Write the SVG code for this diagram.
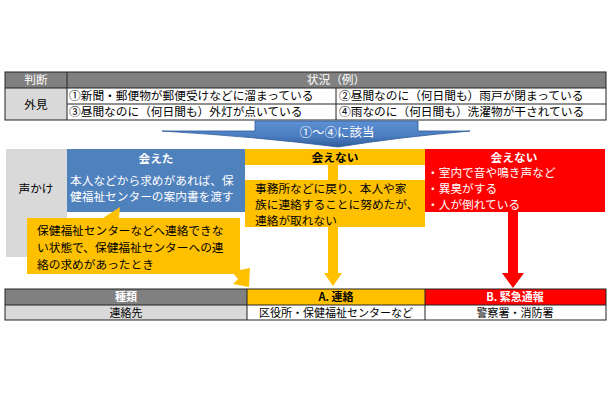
<svg xmlns="http://www.w3.org/2000/svg" width="610" height="400" viewBox="0 0 610 400">
<defs>
<style>
text{font-family:"Noto Sans CJK JP","Noto Sans",sans-serif;font-size:11.7px;}
.b{font-weight:bold;}
.w{fill:#ffffff;}
.k{fill:#000000;}
.c{text-anchor:middle;}
.s{font-size:11px;}
.grid{fill:none;stroke:#222;stroke-width:1;}
</style>
<linearGradient id="bg" x1="0" y1="0" x2="0" y2="1">
<stop offset="0" stop-color="#5d90d3"/>
<stop offset="0.6" stop-color="#4a7cc0"/>
<stop offset="1" stop-color="#2e5c99"/>
</linearGradient>
</defs>
<rect width="610" height="400" fill="#ffffff"/>

<g id="top-table">
<rect x="5" y="72" width="601" height="16" fill="#808080"/>
<rect x="5" y="88" width="62" height="32" fill="#d9d9d9"/>
<rect x="67" y="88" width="539" height="32" fill="#ffffff"/>
<rect x="5" y="72" width="601" height="48" class="grid"/>
<line x1="67" y1="72" x2="67" y2="120" class="grid"/>
<line x1="5" y1="88" x2="606" y2="88" class="grid"/>
<line x1="67" y1="104" x2="606" y2="104" class="grid"/>
<line x1="336" y1="88" x2="336" y2="120" class="grid"/>
<text x="36" y="84" class="w c">判断</text>
<text x="336" y="84" class="w c">状況（例）</text>
<text x="36" y="108.5" class="k c">外見</text>
<text x="69" y="100">①新聞・郵便物が郵便受けなどに溜まっている</text>
<text x="339" y="100">②昼間なのに（何日間も）雨戸が閉まっている</text>
<text x="69" y="116">③昼間なのに（何日間も）外灯が点いている</text>
<text x="339" y="116">④雨なのに（何日間も）洗濯物が干されている</text>
</g>

<g id="match-arrow">
<path d="M255,121 H418 V131 H470 Q400,137 338,147 Q260,137 162,131 H255 Z" fill="url(#bg)" stroke="#2e5c99" stroke-width="0.8"/>
<text x="337" y="137" class="w c" style="font-size:12.5px">①～④に該当</text>
</g>

<g id="voice-label">
<rect x="6" y="149" width="61" height="108" fill="#d9d9d9"/>
<text x="36" y="193" class="k c">声かけ</text>
</g>

<g id="met">
<rect x="67" y="149" width="178" height="63" fill="#4f81bd"/>
<text x="156" y="163" class="w c b">会えた</text>
<text x="70" y="185" class="w">本人などから求めがあれば、保</text>
<text x="70" y="201" class="w">健福祉センターの案内書を渡す</text>
</g>

<g id="callout">
<path d="M27,218 H103 L120,207 L119,218 H240 V274 H27 Z" fill="#ffc000"/>
<text x="37" y="235" class="k">保健福祉センターなどへ連絡できな</text>
<text x="37" y="252" class="k">い状態で、保健福祉センターへの連</text>
<text x="37" y="269" class="k">絡の求めがあったとき</text>
</g>

<g id="not-met-yellow">
<rect x="245" y="149" width="180" height="16" fill="#ffc000"/>
<text x="335" y="161.5" class="k c b">会えない</text>
<rect x="245" y="180" width="180" height="47" fill="#ffc000"/>
<text x="255" y="193" class="k">事務所などに戻り、本人や家</text>
<text x="255" y="209" class="k">族に連絡することに努めたが、</text>
<text x="255" y="225" class="k">連絡が取れない</text>
</g>

<g id="not-met-red">
<rect x="425" y="149" width="180" height="63" fill="#ff0000"/>
<text x="514" y="161.5" class="w c b">会えない</text>
<text x="427" y="177" class="w">・室内で音や鳴き声など</text>
<text x="427" y="193" class="w">・異臭がする</text>
<text x="427" y="209" class="w">・人が倒れている</text>
</g>

<g id="connectors">
<path d="M328,165 H338 V180 H328 Z M328,227 H338 V273 H342 L333,286 L324,273 H328 Z" fill="#ffc000"/>
<path d="M508,212 H518 V273 H524 L513,288 L502,273 H508 Z" fill="#ff0000"/>
<path d="M232,272 H240 V270 L250,268 L249,287 L233,284 L238,279 Z" fill="#ffc000"/>
</g>

<g id="bottom-table">
<rect x="5" y="289" width="242" height="16" fill="#808080"/>
<rect x="247" y="289" width="178" height="16" fill="#ffc000"/>
<rect x="425" y="289" width="181" height="16" fill="#ff0000"/>
<rect x="5" y="305" width="242" height="15" fill="#d9d9d9"/>
<rect x="247" y="305" width="359" height="15" fill="#ffffff"/>
<rect x="5" y="289" width="601" height="31" class="grid"/>
<line x1="5" y1="305" x2="606" y2="305" class="grid"/>
<line x1="247" y1="289" x2="247" y2="320" class="grid"/>
<line x1="425" y1="289" x2="425" y2="320" class="grid"/>
<text x="126" y="301" class="w c b s">種類</text>
<text x="336" y="301" class="k c b s">A. 連絡</text>
<text x="515" y="301" class="w c b s">B. 緊急通報</text>
<text x="126" y="317" class="k c s">連絡先</text>
<text x="336" y="317" class="k c s">区役所・保健福祉センターなど</text>
<text x="515" y="317" class="k c s">警察署・消防署</text>
</g>
</svg>
